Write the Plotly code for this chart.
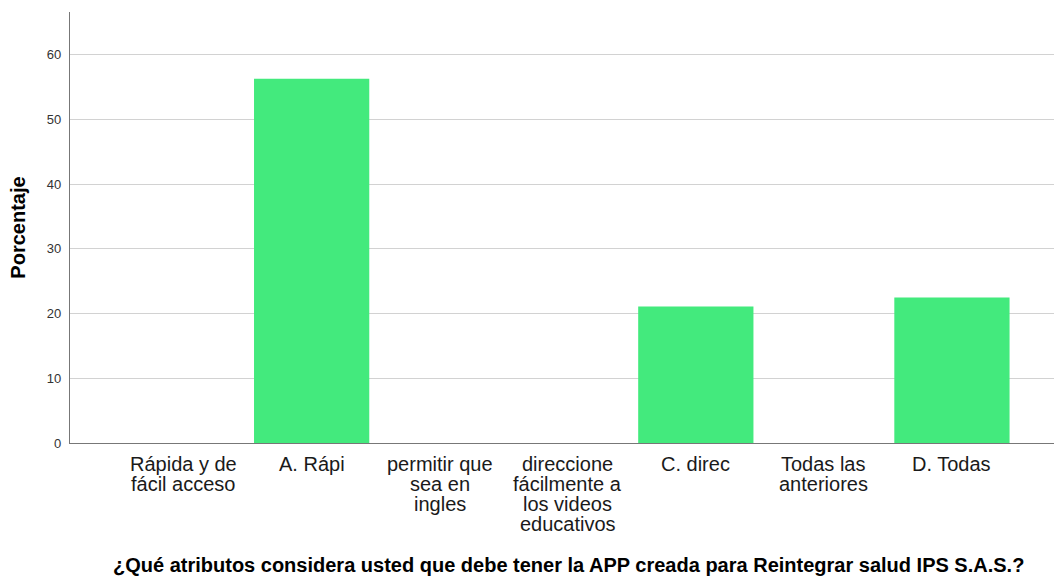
import plotly.graph_objects as go

categories = [
    "Rápida y de<br>fácil acceso",
    "A. Rápi",
    "permitir que<br>sea en<br>ingles",
    "direccione<br>fácilmente a<br>los videos<br>educativos",
    "C. direc",
    "Todas las<br>anteriores",
    "D. Todas",
]
percentages = [0, 56.3, 0, 0, 21.1, 0, 22.5]
y_ticks = [0, 10, 20, 30, 40, 50, 60]
x_title = "¿Qué atributos considera usted que debe tener la APP creada para Reintegrar salud IPS S.A.S.?"
y_title = "Porcentaje"

FONT = "Liberation Sans, Arial, sans-serif"
BAR_COLOR = "#43EA7D"

xpos = list(range(len(categories)))
X_RANGE = [-0.887, 6.797]

fig = go.Figure()
fig.add_trace(go.Bar(
    x=xpos,
    y=percentages,
    width=0.9,
    marker=dict(color=BAR_COLOR, line=dict(width=0)),
    hoverinfo="x+y",
))

annotations = []
for i, lab in enumerate(categories):
    for j, line in enumerate(lab.split("<br>")):
        annotations.append(dict(
            x=xpos[i], y=0, xref="x", yref="y",
            xanchor="center", yanchor="top",
            yshift=-8 - 20 * j,
            text=line, showarrow=False,
            font=dict(family=FONT, size=20, color="#1a1a1a"),
        ))

annotations.append(dict(
    x=0.5, y=0, xref="paper", yref="paper",
    xanchor="center", yanchor="top", xshift=6, yshift=-109,
    text="<b>" + x_title + "</b>", showarrow=False,
    font=dict(family=FONT, size=20, color="#000000"),
))

fig.update_layout(
    width=1054, height=576,
    margin=dict(l=70, r=0, t=12, b=133),
    paper_bgcolor="white", plot_bgcolor="white",
    showlegend=False,
    annotations=annotations,
    xaxis=dict(
        range=X_RANGE,
        showticklabels=False,
        ticks="",
        showgrid=False,
        zeroline=False,
        showline=True, linecolor="#777777", linewidth=1.3,
        fixedrange=True,
    ),
    yaxis=dict(
        range=[0, 66.6],
        tickvals=y_ticks,
        ticktext=[str(v) for v in y_ticks],
        tickfont=dict(family=FONT, size=13, color="#333333"),
        ticks="", ticklabelstandoff=5,
        showgrid=True, gridcolor="#d2d2d2", gridwidth=1.3,
        zeroline=False,
        showline=True, linecolor="#777777", linewidth=1.3,
        automargin=False,
        title=dict(text="<b>" + y_title + "</b>",
                   font=dict(family=FONT, size=20, color="#000000"),
                   standoff=15),
        fixedrange=True,
    ),
)

fig.write_html(
    "out.html",
    config={"displayModeBar": False},
    post_script="document.body.style.margin='0';document.body.style.overflow='hidden';",
)
